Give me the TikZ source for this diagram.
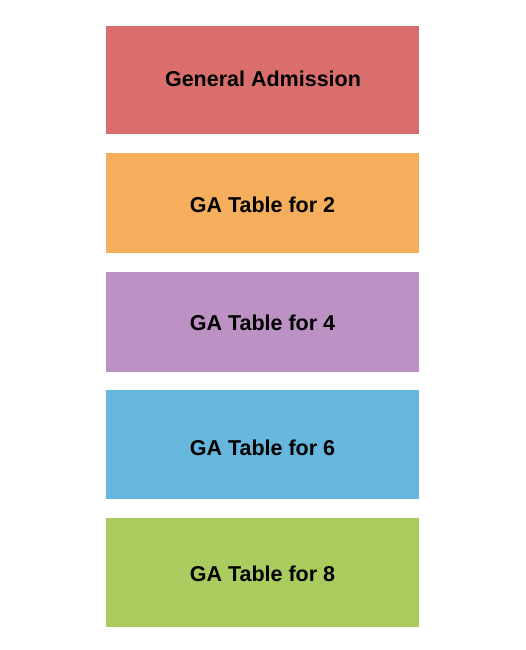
\documentclass[tikz,border=0pt]{standalone}
\usepackage{fontspec}
\setmainfont{Liberation Sans}
\definecolor{cred}{HTML}{D96E6D}
\definecolor{corange}{HTML}{F4AE5C}
\definecolor{cpurple}{HTML}{BC91C3}
\definecolor{cblue}{HTML}{66B6DE}
\definecolor{cgreen}{HTML}{AACB5E}
\begin{document}
\begin{tikzpicture}[x=1pt,y=-1pt,
  sect/.style={inner sep=0pt, font=\bfseries\fontsize{21.5}{24}\selectfont, text=black}]
\useasboundingbox (0,0) rectangle (525,650);
\fill[cred] (106,26) rectangle (419,134);
\node[sect] (ga) at (263,79) {General Admission};
\fill[corange] (106,153) rectangle (419,253);
\node[sect] (t2) at (262.5,205) {GA Table for 2};
\fill[cpurple] (106,272) rectangle (419,372);
\node[sect] (t4) at (262.5,323) {GA Table for 4};
\fill[cblue] (106,390) rectangle (419,499);
\node[sect] (t6) at (262.5,448) {GA Table for 6};
\fill[cgreen] (106,518) rectangle (419,627);
\node[sect] (t8) at (262.5,574) {GA Table for 8};
\end{tikzpicture}
\end{document}
